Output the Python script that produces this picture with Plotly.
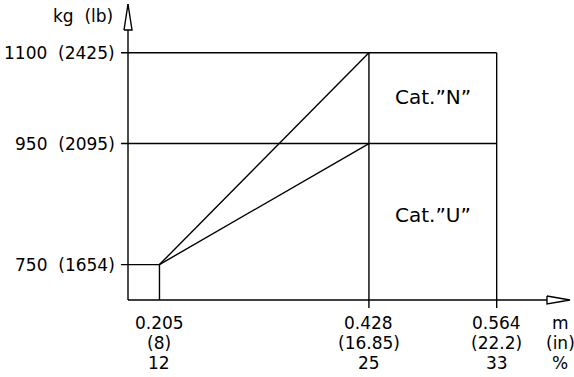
import plotly.graph_objects as go

# ---- data ----
x_ticks = [0.205, 0.428, 0.564]
x_labels_m = ["0.205", "0.428", "0.564"]
x_labels_in = ["(8)", "(16.85)", "(22.2)"]
x_labels_pct = ["12", "25", "33"]
x_unit_labels = ["m", "(in)", "%"]

y_ticks = [750, 950, 1100]
y_labels = ["750  (1654)", "950  (2095)", "1100  (2425)"]
y_unit_label = "kg  (lb)"

regions = ["Cat.”N”", "Cat.”U”"]

# ---- scale setup (screen pixel <-> data) ----
OFF = 0             # body margin removed via post_script
W, H = 574 - OFF, 377 - OFF
kx = 939.3          # px per metre
ky = 0.6051         # px per kg
x_org = 0.1715      # x value at the y-axis (screen x = 128)
Y_REF, PY_REF = 933.3, 153.67


def X(p):
    return x_org + (p - 128) / kx


def Y(p):
    return Y_REF - (p - PY_REF) / ky


y_org = Y(300)
x_lo, x_hi = X(OFF), X(574)
y_lo, y_hi = Y(377), Y(OFF)

fig = go.Figure()
line = dict(color="black", width=1.4)


def seg(xs, ys):
    fig.add_trace(go.Scatter(x=xs, y=ys, mode="lines", line=line,
                             hoverinfo="skip", showlegend=False))


tick_left = X(121)
tick_down = Y(308)

# horizontal reference lines
seg([tick_left, x_ticks[0]], [y_ticks[0], y_ticks[0]])
seg([tick_left, x_ticks[2]], [y_ticks[1], y_ticks[1]])
seg([tick_left, x_ticks[2]], [y_ticks[2], y_ticks[2]])
# vertical reference lines
seg([x_ticks[0], x_ticks[0]], [y_org, y_ticks[0]])
seg([x_ticks[1], x_ticks[1]], [tick_down, y_ticks[2]])
seg([x_ticks[2], x_ticks[2]], [tick_down, y_ticks[2]])
# diagonals
seg([x_ticks[0], x_ticks[1]], [y_ticks[0], y_ticks[2]])
seg([x_ticks[0], x_ticks[1]], [y_ticks[0], y_ticks[1]])

# axes
y_tip, y_base = Y(4), Y(30)
x_tip, x_base = X(570), X(547)
seg([x_org, x_org], [y_org, y_tip])
seg([x_org, x_base], [y_org, y_org])
# open arrow heads
fig.add_trace(go.Scatter(
    x=[X(124), x_org, X(132), X(124)],
    y=[y_base, y_tip, y_base, y_base],
    mode="lines", line=line, fill="toself", fillcolor="white",
    hoverinfo="skip", showlegend=False))
fig.add_trace(go.Scatter(
    x=[x_base, x_tip, x_base, x_base],
    y=[Y(296), y_org, Y(304), Y(296)],
    mode="lines", line=line, fill="toself", fillcolor="white",
    hoverinfo="skip", showlegend=False))

FONT = dict(family="DejaVu Sans", size=17, color="black")
BIG = dict(family="DejaVu Sans", size=20, color="black")
ann = []
for yv, lab in zip(y_ticks, y_labels):
    ann.append(dict(x=X(117), y=yv, text=lab, xanchor="right",
                    yanchor="middle", showarrow=False, font=FONT))
ann.append(dict(x=X(115), y=Y(16), text=y_unit_label,
                xanchor="right", yanchor="middle", showarrow=False, font=FONT))

rows = [x_labels_m, x_labels_in, x_labels_pct]
row_px = [323, 343, 363]
for r, labs in enumerate(rows):
    yv = Y(row_px[r])
    for xv, lab in zip(x_ticks, labs):
        ann.append(dict(x=xv, y=yv, text=lab, xanchor="center",
                        yanchor="middle", showarrow=False, font=FONT))
    ann.append(dict(x=X(560), y=yv, text=x_unit_labels[r],
                    xanchor="center", yanchor="middle", showarrow=False,
                    font=FONT))

mid_x = (x_ticks[1] + x_ticks[2]) / 2
ann.append(dict(x=mid_x, y=Y(97), text=regions[0], showarrow=False, font=BIG))
ann.append(dict(x=mid_x, y=Y(215), text=regions[1], showarrow=False, font=BIG))

fig.update_layout(
    width=W, height=H, margin=dict(l=0, r=0, t=0, b=0),
    paper_bgcolor="white", plot_bgcolor="white",
    xaxis=dict(range=[x_lo, x_hi], visible=False, fixedrange=True),
    yaxis=dict(range=[y_lo, y_hi], visible=False, fixedrange=True),
    annotations=ann, showlegend=False,
)
fig.write_html(
    "out.html",
    config={"displayModeBar": False},
    post_script="document.body.style.margin='0';"
                "document.body.style.overflow='hidden';",
)
